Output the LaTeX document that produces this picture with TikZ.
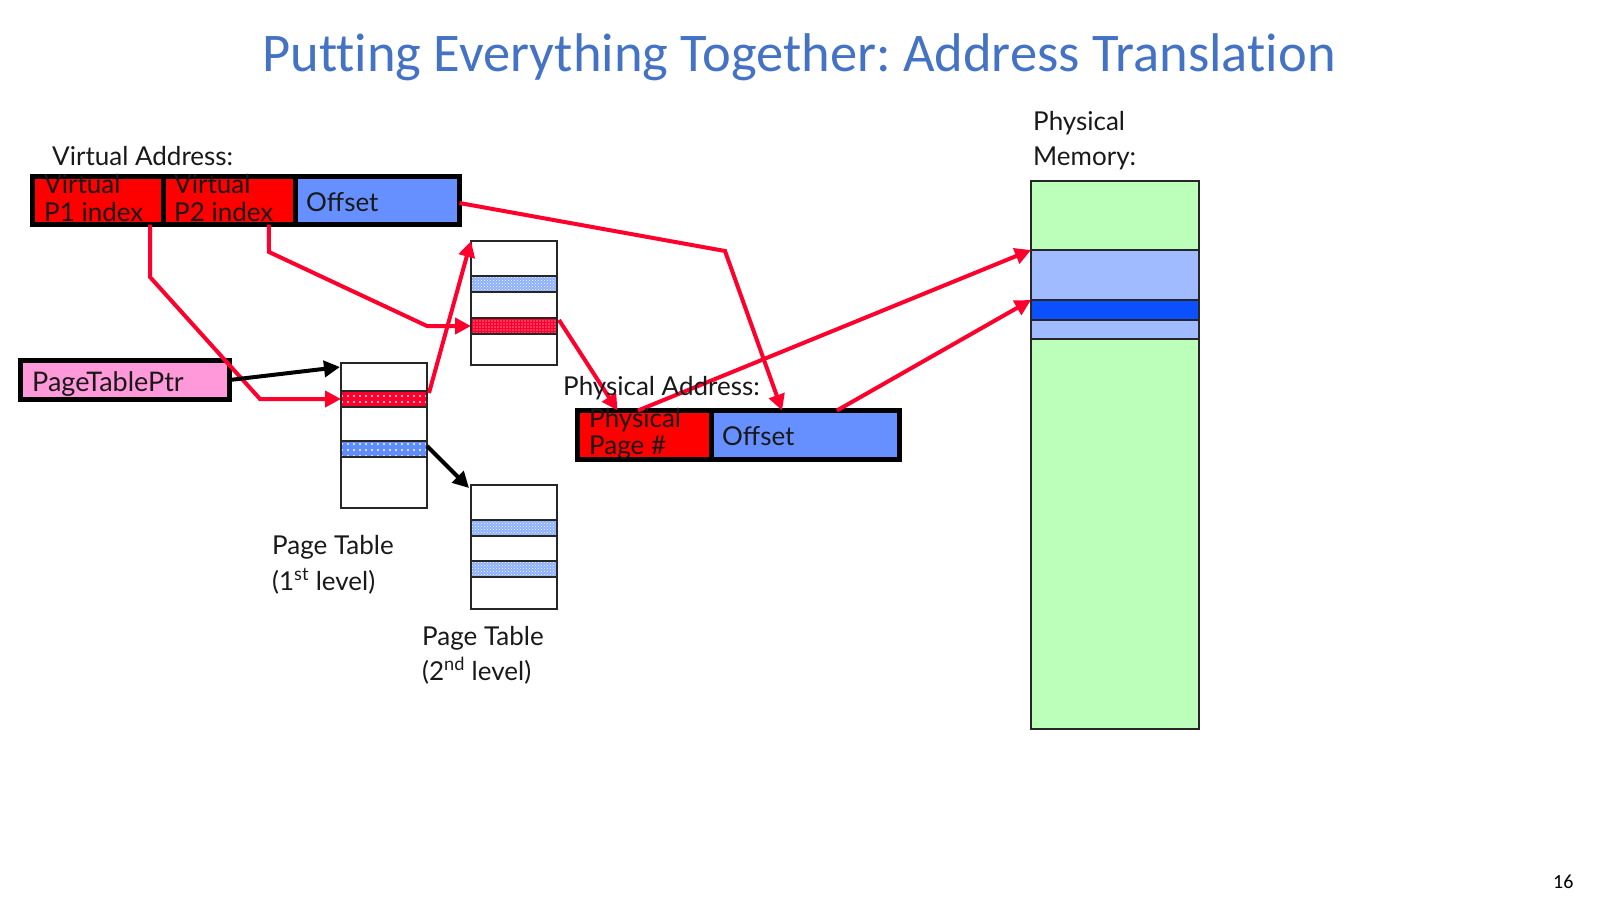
\documentclass[tikz,border=0pt]{standalone}
\usepackage{fontspec}
\setmainfont{Lato}
\newfontfamily\titlefont[Ligatures=NoCommon]{Carlito}
\usetikzlibrary{arrows.meta,patterns,patterns.meta,calc}
\frenchspacing

\definecolor{titleblue}{RGB}{68,114,196}
\definecolor{cellred}{RGB}{255,0,0}
\definecolor{cellblue}{RGB}{102,144,255}
\definecolor{ptrpink}{RGB}{255,153,217}
\definecolor{memgreen}{RGB}{187,255,187}
\definecolor{memlight}{RGB}{160,187,255}
\definecolor{memdark}{RGB}{10,80,255}
\definecolor{arrowred}{RGB}{255,0,45}
\definecolor{rowblue}{RGB}{96,140,255}
\definecolor{rowpale}{RGB}{140,175,255}

\tikzset{
  addrcell/.style={draw=black, line width=5pt, inner sep=0pt, outer sep=0pt},
  tablebox/.style={draw=black!85, line width=2pt, fill=white, inner sep=0pt, outer sep=0pt,
    minimum width=86pt},
  tablerow/.style={tablebox},
  reddots/.style={tablerow, preaction={fill=arrowred},
    pattern={Dots[distance=6pt,radius=1.1pt]}, pattern color=white},
  reddense/.style={tablerow, preaction={fill=arrowred},
    pattern={Dots[distance=3pt,radius=0.7pt]}, pattern color=white},
  bluedots/.style={tablerow, preaction={fill=rowblue},
    pattern={Dots[distance=6pt,radius=1.1pt]}, pattern color=white},
  bluechecks/.style={tablerow, preaction={fill=rowpale},
    pattern=crosshatch dots, pattern color=white},
  memcell/.style={draw=black!85, line width=2pt, inner sep=0pt, outer sep=0pt,
    minimum width=168pt},
  label/.style={inner sep=0pt, anchor=base west, text=black!90,
    font=\fontsize{26}{30}\selectfont},
  celltext/.style={inner sep=0pt, anchor=base west, text=black!90,
    font=\fontsize{26}{30}\selectfont},
  redarrow/.style={draw=arrowred, line width=4pt, line join=miter,
    -{Triangle[length=16pt,width=16pt]}},
  blackarrow/.style={draw=black, line width=4pt,
    -{Triangle[length=16pt,width=16pt]}}
}

\begin{document}
\begin{tikzpicture}[x=1pt,y=-1pt]
\useasboundingbox (0,0) rectangle (1600,900);

% virtual address fields
\node[addrcell, fill=cellred, minimum width=131pt, minimum height=48pt] (p1) at (98,200.5) {};
\node[addrcell, fill=cellred, minimum width=131.5pt, minimum height=48pt] (p2) at (229.25,200.5) {};
\node[addrcell, fill=cellblue, minimum width=164.5pt, minimum height=48pt] (vaoff) at (377.25,200.5) {};

% page table pointer register
\node[addrcell, fill=ptrpink, minimum width=209pt, minimum height=39pt] (ptp) at (125,380) {};

% first-level page table
\node[tablebox, minimum height=145pt] (pt1) at (384,435.5) {};
\node[reddots, minimum height=16pt] (pt1r) at (384,399) {};
\node[bluedots, minimum height=16pt] (pt1b) at (384,449) {};

% second-level page tables
\node[tablebox, minimum height=124pt] (pt2a) at (514,303) {};
\node[bluechecks, minimum height=16pt] (pt2ab) at (514,284) {};
\node[reddense, minimum height=16pt] (pt2ar) at (514,326) {};

\node[tablebox, minimum height=124pt] (pt2b) at (514,547) {};
\node[bluechecks, minimum height=16pt] (pt2bb1) at (514,528) {};
\node[bluechecks, minimum height=16pt] (pt2bb2) at (514,569) {};

% physical address fields
\node[addrcell, fill=cellred, minimum width=133.5pt, minimum height=49pt] (ppn) at (644.25,435) {};
\node[addrcell, fill=cellblue, minimum width=188.5pt, minimum height=49pt] (paoff) at (805.25,435) {};

% physical memory
\node[memcell, fill=memgreen, minimum height=548pt] (mem) at (1115,455) {};
\node[memcell, fill=memlight, minimum height=89pt] (memlb) at (1115,294.5) {};
\node[memcell, fill=memdark, minimum height=20pt] (memdb) at (1115,310) {};

% translation paths
\coordinate (bend1a) at (150,277);
\coordinate (bend1b) at (260,399);
\coordinate (bend2a) at (269,252);
\coordinate (bend2b) at (427,326);
\coordinate (bend3) at (725,251);

\draw[redarrow] ($(p1.south west)!0.897!(p1.south east)$) -- (bend1a) -- (bend1b) -- (pt1r.west);
\draw[redarrow] ($(p2.south west)!0.802!(p2.south east)$) -- (bend2a) -- (bend2b) -- (pt2ar.west);
\draw[redarrow] ($(pt1r.east)+(2,-6)$) -- (pt2a.north west);
\draw[redarrow] ($(vaoff.east)+(0,2.5)$) -- (bend3) -- ($(paoff.north west)!0.377!(paoff.north east)$);
\draw[redarrow] ($(pt2ar.east)+(2,-6)$) -- ($(ppn.north west)!0.30!(ppn.north east)$);
\draw[redarrow] ($(ppn.north west)!0.453!(ppn.north east)$) -- (memlb.north west);
\draw[redarrow] ($(paoff.north west)!0.668!(paoff.north east)$) -- (memdb.north west);

\draw[blackarrow] (ptp.east) -- ($(pt1.north west)+(-1,4)$);
\draw[blackarrow] ($(pt1b.east)+(0,-3)$) -- ($(pt2b.north west)+(-2,3)$);

% texts
\node[inner sep=0pt, anchor=base, text=titleblue, font=\titlefont\fontsize{54.5}{60}\selectfont]
  (title) at (799,71) {Putting Everything Together: Address Translation};

\node[label] (valabel) at (52,165) {Virtual Address:};
\node[celltext] (p1t1) at (44,193) {Virtual};
\node[celltext] (p1t2) at (44,221) {P1 index};
\node[celltext] (p2t1) at (174,193) {Virtual};
\node[celltext] (p2t2) at (174,221) {P2 index};
\node[celltext] (vaofft) at (306,211) {Offset};

\node[label, font=\fontsize{27}{30}\selectfont] (ptpt) at (32,391) {PageTablePtr};

\node[label] (pt1l1) at (272,554) {Page Table};
\node[label] (pt1l2) at (272,590) {(1\textsuperscript{st} level)};
\node[label] (pt2l1) at (422,645) {Page Table};
\node[label] (pt2l2) at (422,680) {(2\textsuperscript{nd} level)};

\node[label] (palabel) at (563,395) {Physical Address:};
\node[celltext] (ppnt1) at (589,427) {Physical};
\node[celltext] (ppnt2) at (589,454) {Page \#};
\node[celltext] (paofft) at (722,445) {Offset};

\node[label] (meml1) at (1033,130) {Physical};
\node[label] (meml2) at (1033,165) {Memory:};

\node[inner sep=0pt, anchor=base west, font=\titlefont\fontsize{20}{24}\selectfont]
  (pagenum) at (1553,888) {16};
\end{tikzpicture}
\end{document}
